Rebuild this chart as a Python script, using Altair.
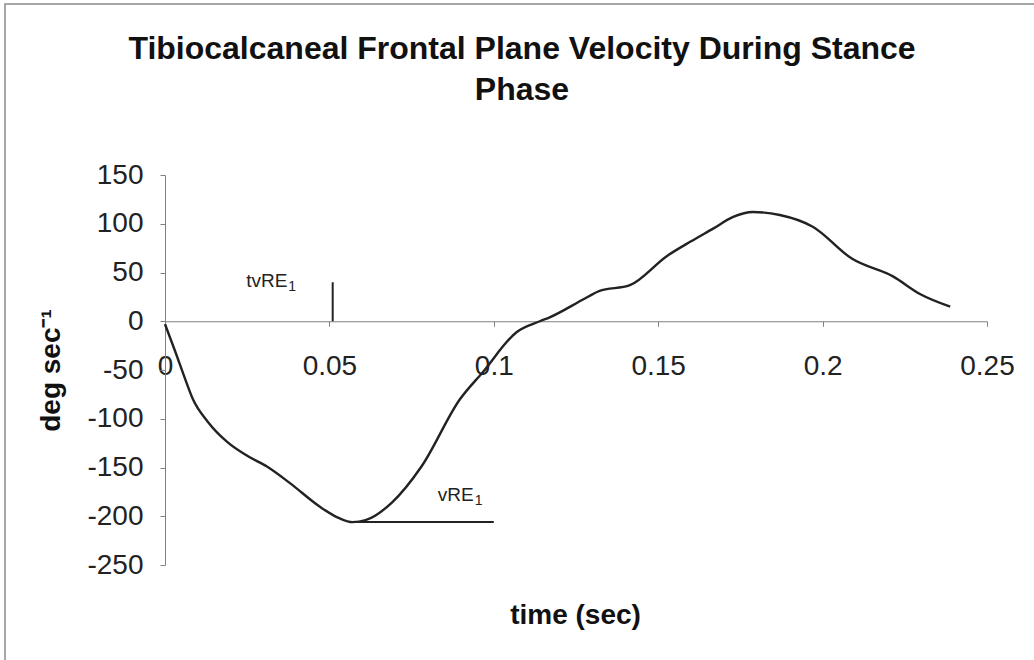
import altair as alt
import pandas as pd

# Curve (time in sec, velocity in deg/sec)
time_s = [0.0, 0.003, 0.006, 0.0085, 0.013, 0.019, 0.025, 0.031, 0.038, 0.047,
          0.053, 0.057, 0.061, 0.069, 0.078, 0.0897, 0.0967, 0.107, 0.114, 0.117,
          0.127, 0.132, 0.1414, 0.1527, 0.16, 0.1667, 0.1728, 0.1788, 0.187, 0.197,
          0.209, 0.2214, 0.2296, 0.2388]
velocity = [-3, -30, -58, -80, -103, -124, -138, -149, -166, -190,
            -202, -206, -204, -186, -149, -80, -52, -11, 0, 4,
            22, 31, 37, 67, 82, 95, 107, 112, 109, 97,
            64, 46, 28, 15]

x_ticks = [0, 0.05, 0.1, 0.15, 0.2, 0.25]
y_ticks = [150, 100, 50, 0, -50, -100, -150, -200, -250]

# Annotations
tv_x = [0.051]
tv_y = [0]
tv_y2 = [40]
v_x = [0.057]
v_x2 = [0.1]
v_y = [-206]
label_x = [0.0372, 0.0939]          # right end of the main label text
label_y = [41, -178]
label_text = ["tvRE", "vRE"]
label_sub = ["1", "1"]

FONT = "Liberation Sans"
W, H = 822, 390
PAD_L, PAD_T = 165, 175

curve = pd.DataFrame({"t": time_s, "v": velocity})
tv_df = pd.DataFrame({"t": tv_x, "v": tv_y, "v2": tv_y2})
v_df = pd.DataFrame({"t": v_x, "t2": v_x2, "v": v_y})
lab_df = pd.DataFrame({"t": label_x, "v": label_y, "text": label_text,
                       "sub": label_sub})

xscale = alt.Scale(domain=[0, 0.25], nice=False, zero=False)
yscale = alt.Scale(domain=[-250, 150], nice=False, zero=False)

zero_px = 150 * H / 400  # pixel position of y = 0 from top of plot

xaxis = alt.Axis(
    values=x_ticks, labelExpr="'' + datum.value", title="time (sec)",
    offset=-(H - zero_px), grid=False, domainColor="#808080",
    tickColor="#808080", tickSize=5, labelFontSize=28, labelFont=FONT,
    labelColor="#222222", labelPadding=26, titleFont=FONT, titleFontSize=28,
    titleFontWeight="bold", titleColor="#111111",
    titleY=615 - PAD_T - zero_px, titleX=575 - PAD_L,
    titleBaseline="middle", labelFlush=False, labelOverlap=False)
yaxis = alt.Axis(
    values=y_ticks, labelExpr="'' + datum.value", title="deg sec\u207b\u00b9",
    grid=False, domainColor="#808080", tickColor="#808080", tickSize=5,
    labelFontSize=28, labelFont=FONT, labelColor="#222222", labelPadding=17,
    titleFont=FONT, titleFontSize=28, titleFontWeight="bold",
    titleColor="#111111", titleX=59 - PAD_L, titleY=370 - PAD_T,
    titleBaseline="alphabetic", titleAngle=270, labelFlush=False,
    labelOverlap=False)

line = alt.Chart(curve).mark_line(
    color="#222222", strokeWidth=2.4, interpolate="monotone"
).encode(
    x=alt.X("t:Q", scale=xscale, axis=xaxis),
    y=alt.Y("v:Q", scale=yscale, axis=yaxis),
)

tv_rule = alt.Chart(tv_df).mark_rule(color="#222222", strokeWidth=2).encode(
    x=alt.X("t:Q", scale=xscale, axis=xaxis),
    y=alt.Y("v:Q", scale=yscale, axis=yaxis),
    y2="v2:Q",
)

v_rule = alt.Chart(v_df).mark_rule(color="#222222", strokeWidth=2).encode(
    x=alt.X("t:Q", scale=xscale, axis=xaxis),
    x2="t2:Q",
    y=alt.Y("v:Q", scale=yscale, axis=yaxis),
)

labels = alt.Chart(lab_df).mark_text(
    font=FONT, fontSize=19, color="#222222", align="right", baseline="middle"
).encode(
    x=alt.X("t:Q", scale=xscale, axis=xaxis),
    y=alt.Y("v:Q", scale=yscale, axis=yaxis),
    text="text:N",
)

subs = alt.Chart(lab_df).mark_text(
    font=FONT, fontSize=14, color="#222222", align="left", baseline="middle",
    dx=1, dy=6
).encode(
    x=alt.X("t:Q", scale=xscale, axis=xaxis),
    y=alt.Y("v:Q", scale=yscale, axis=yaxis),
    text="sub:N",
)

frame = alt.Chart(pd.DataFrame({"k": [0]})).mark_rect(
    filled=False, stroke="#8a8a8a", strokeWidth=1.5
).encode(
    x=alt.value(5 - PAD_L), x2=alt.value(1040 - PAD_L),
    y=alt.value(4 - PAD_T), y2=alt.value(666 - PAD_T),
)

chart = alt.layer(line, tv_rule, v_rule, labels, subs, frame).properties(
    width=W, height=H,
    title=alt.TitleParams(
        text=["Tibiocalcaneal Frontal Plane Velocity During Stance", "Phase"],
        font=FONT, fontSize=32, fontWeight="bold", color="#111111",
        anchor="middle", frame="group", dx=522 - (PAD_L + W / 2),
        offset=-104, lineHeight=41,
    ),
    autosize=alt.AutoSizeParams(type="none"),
    padding={"left": PAD_L, "top": PAD_T, "right": 1034 - PAD_L - W,
             "bottom": 660 - PAD_T - H},
).configure_view(strokeWidth=0)

chart.save("out.html", embed_options={"renderer": "svg", "actions": False})
